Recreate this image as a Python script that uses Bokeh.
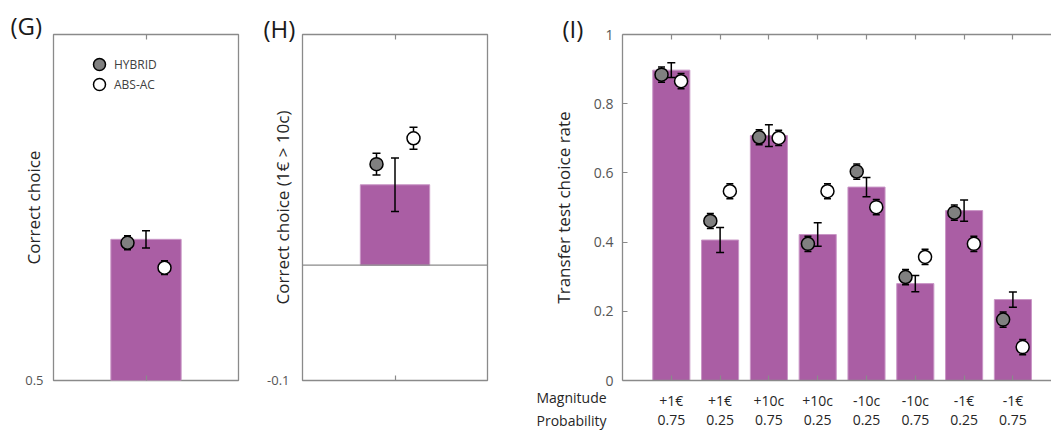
import numpy as np
from bokeh.plotting import figure
from bokeh.models import (ColumnDataSource, Whisker, TeeHead, Span, Title,
                          FixedTicker, LinearAxis, Legend, LegendItem, Range1d)
from bokeh.layouts import row
from bokeh.embed import file_html
from bokeh.resources import INLINE

# ---------------- data ----------------
# Panel G: correct choice
g_bar = [0.704]
g_bar_sem = [0.0125]
g_hybrid = [0.699]
g_abs = [0.663]
g_model_sem = [0.010]

# Panel H: correct choice (1€ > 10c)
h_bar = [0.0697]
h_bar_sem = [0.0232]
h_hybrid = [0.0876]
h_abs = [0.110]
h_model_sem = [0.0095]

# Panel I: transfer test choice rate
magnitude = ["+1€", "+1€", "+10c", "+10c", "-10c", "-10c", "-1€", "-1€"]
probability = ["0.75", "0.25", "0.75", "0.25", "0.25", "0.75", "0.25", "0.75"]
row_names = ["Magnitude", "Probability"]
i_bar = [0.897, 0.406, 0.708, 0.422, 0.559, 0.280, 0.491, 0.234]
i_bar_sem = [0.021, 0.036, 0.0315, 0.034, 0.028, 0.0235, 0.031, 0.022]
i_hybrid = [0.884, 0.461, 0.703, 0.395, 0.604, 0.299, 0.485, 0.176]
i_abs = [0.865, 0.547, 0.701, 0.547, 0.501, 0.357, 0.395, 0.0965]
i_model_sem = [0.022] * 8
i_yticks = [0, 0.2, 0.4, 0.6, 0.8, 1.0]
i_yticklabels = ["0", "0.2", "0.4", "0.6", "0.8", "1"]

# ---------------- style ----------------
FONT = "Open Sans"
BAR_FILL = "#AA5EA4"
BAR_LINE = "#C996C6"
FRAME = "#8a8a8a"
GRAY_DOT = "#808080"
TICKLBL = "#555555"
TXT = "#262626"
DOT_SIZE = 13
OFF = 0.2
BAR_W = 0.76
TOP, BOTTOM = 34, 51


def add_whisker(p, x, y, sem, head=8):
    y = np.asarray(y, float)
    sem = np.asarray(sem, float)
    src = ColumnDataSource(dict(x=list(x), lo=list(y - sem), hi=list(y + sem)))
    w = Whisker(source=src, base="x", upper="hi", lower="lo", dimension="height",
                line_color="black", line_width=1.5, level="glyph",
                upper_head=TeeHead(size=head, line_color="black", line_width=1.5),
                lower_head=TeeHead(size=head, line_color="black", line_width=1.5))
    p.add_layout(w)


def tick_axis(ticks, line):
    return LinearAxis(ticker=FixedTicker(ticks=ticks),
                      major_label_overrides={t: "" for t in ticks},
                      major_label_text_font_size="1px", major_label_standoff=0,
                      major_tick_in=5, major_tick_out=0,
                      major_tick_line_color=FRAME, major_tick_line_width=1.2,
                      minor_tick_line_color=None,
                      axis_line_color=FRAME if line else None, axis_line_width=1.3)


def style_common(p):
    p.xgrid.visible = False
    p.ygrid.visible = False
    p.background_fill_color = "white"
    p.border_fill_color = "white"


def style_yaxis(ya, yticks, yticklabels, size, standoff):
    ya.ticker = FixedTicker(ticks=yticks)
    ya.major_label_overrides = dict(zip(yticks, yticklabels))
    ya.major_label_text_font = FONT
    ya.major_label_text_font_size = size
    ya.major_label_text_color = TICKLBL
    ya.major_label_standoff = standoff
    ya.minor_tick_line_color = None


def panel_letter(p, text, offset, standoff):
    t = p.title
    t.text = text
    t.align = "left"
    t.offset = offset
    t.standoff = standoff
    t.vertical_align = "bottom"
    t.text_font = FONT
    t.text_font_size = "24px"
    t.text_font_style = "normal"
    t.text_color = "#1a1a1a"


def ylabel(ya, text, size, standoff):
    ya.axis_label = text
    ya.axis_label_text_font = FONT
    ya.axis_label_text_font_size = size
    ya.axis_label_text_font_style = "normal"
    ya.axis_label_text_color = TXT
    ya.axis_label_standoff = standoff


def boxed_panel(width, border_l, border_r, x_range, y_range, ytick, ylab, ylab_standoff,
                tick_standoff):
    p = figure(width=width, height=431, x_range=x_range, y_range=y_range,
               output_backend="svg", toolbar_location=None, x_axis_type=None, y_axis_type=None,
               min_border_left=border_l, min_border_right=border_r,
               min_border_top=TOP, min_border_bottom=BOTTOM)
    style_common(p)
    p.outline_line_color = FRAME
    p.outline_line_width = 1.3
    p.add_layout(tick_axis([1], False), "below")
    p.add_layout(tick_axis([1], False), "above")
    ya = LinearAxis(axis_line_color=None, major_tick_line_color=None, major_tick_out=0,
                    major_tick_in=0)
    style_yaxis(ya, [ytick[0]], [ytick[1]], "13px", tick_standoff)
    ylabel(ya, ylab, "17px", ylab_standoff)
    p.add_layout(ya, "left")
    return p


cx = np.array([1.0])

# ---------------- Panel G ----------------
pg = boxed_panel(255, 53, 17, Range1d(0, 2), Range1d(0.5, 1.0), (0.5, "0.5"),
                 "Correct choice", -23, 10)
pg.vbar(x=cx, top=g_bar, bottom=0.5, width=BAR_W, fill_color=BAR_FILL, line_color=BAR_LINE, line_width=1)
add_whisker(pg, cx, g_bar, g_bar_sem)
add_whisker(pg, cx - OFF, g_hybrid, g_model_sem, head=7)
add_whisker(pg, cx + OFF, g_abs, g_model_sem, head=7)
rg1 = pg.scatter(x=cx - OFF, y=g_hybrid, size=DOT_SIZE, fill_color=GRAY_DOT, line_color="black",
                 line_width=1.5, level="overlay")
rg2 = pg.scatter(x=cx + OFF, y=g_abs, size=DOT_SIZE, fill_color="white", line_color="black",
                 line_width=1.5, level="overlay")
for item, loc in ((LegendItem(label="HYBRID", renderers=[rg1]), (31, 301)),
                  (LegendItem(label="ABS-AC", renderers=[rg2]), (31, 281))):
    lg = Legend(items=[item], location=loc, glyph_width=30, glyph_height=30,
                label_standoff=0, padding=0, margin=0, spacing=0,
                border_line_color=None, background_fill_alpha=0,
                label_text_font=FONT, label_text_font_size="12px", label_text_color="#404040",
                label_height=30)
    pg.add_layout(lg, "center")
panel_letter(pg, "(G)", -43, -14)

# ---------------- Panel H ----------------
ph = boxed_panel(245, 47, 13, Range1d(0, 2), Range1d(-0.1, 0.2), (-0.1, "-0.1"),
                 "Correct choice (1€ > 10c)", -30, 13)
ph.add_layout(Span(location=0, dimension="width", line_color=FRAME, line_width=1.3))
ph.vbar(x=cx, top=h_bar, bottom=0, width=0.75, fill_color=BAR_FILL, line_color=BAR_LINE, line_width=1)
add_whisker(ph, cx, h_bar, h_bar_sem)
add_whisker(ph, cx - OFF, h_hybrid, h_model_sem, head=8)
add_whisker(ph, cx + OFF, h_abs, h_model_sem, head=8)
ph.scatter(x=cx - OFF, y=h_hybrid, size=DOT_SIZE, fill_color=GRAY_DOT, line_color="black",
           line_width=1.5, level="overlay")
ph.scatter(x=cx + OFF, y=h_abs, size=DOT_SIZE, fill_color="white", line_color="black",
           line_width=1.5, level="overlay")
panel_letter(ph, "(H)", -39, -20)

# ---------------- Panel I ----------------
n = len(i_bar)
ix = np.arange(1, n + 1, dtype=float)
PX = 48.8            # pixels per category unit
X_END = 429 / PX
pi_ = figure(width=551, height=431, x_range=Range1d(0, X_END), y_range=Range1d(0, 1.0),
             output_backend="svg", toolbar_location=None, x_axis_type=None, y_axis_type=None,
             min_border_left=122, min_border_right=0,
             min_border_top=TOP, min_border_bottom=BOTTOM)
style_common(pi_)
pi_.outline_line_color = None
pi_.add_layout(tick_axis(list(ix), True), "above")
# first row of category labels (magnitude), with the inward ticks and axis line
mag_axis = LinearAxis(ticker=FixedTicker(ticks=list(ix)),
                      major_label_overrides={float(x): m for x, m in zip(ix, magnitude)},
                      major_label_text_font=FONT, major_label_text_font_size="14px",
                      major_label_text_color=TXT, major_label_standoff=10,
                      major_tick_in=5, major_tick_out=0, major_tick_line_color=FRAME,
                      major_tick_line_width=1.2, minor_tick_line_color=None,
                      axis_line_color=FRAME, axis_line_width=1.3)
pi_.add_layout(mag_axis, "below")
# second row of category labels (probability)
prob_axis = LinearAxis(ticker=FixedTicker(ticks=list(ix)),
                       major_label_overrides={float(x): pr for x, pr in zip(ix, probability)},
                       major_label_text_font=FONT, major_label_text_font_size="14px",
                       major_label_text_color=TXT, major_label_standoff=2,
                       major_tick_line_color=None, major_tick_in=0, major_tick_out=0,
                       minor_tick_line_color=None, axis_line_color=None)
pi_.add_layout(prob_axis, "below")
# row names to the left of the category labels
row_title = Title(text="\n".join(row_names), align="left", offset=-86, vertical_align="top",
                  standoff=-80, text_font=FONT, text_font_size="14px", text_font_style="normal",
                  text_color=TXT, text_line_height=1.22)
pi_.add_layout(row_title, "below")
ya = LinearAxis(axis_line_color=FRAME, axis_line_width=1.3,
                major_tick_in=5, major_tick_out=0, major_tick_line_color=FRAME,
                major_tick_line_width=1.2)
style_yaxis(ya, i_yticks, i_yticklabels, "14px", 9)
ylabel(ya, "Transfer test choice rate", "17px", 16)
pi_.add_layout(ya, "left")
pi_.vbar(x=ix, top=i_bar, bottom=0, width=BAR_W, fill_color=BAR_FILL, line_color=BAR_LINE, line_width=1)
add_whisker(pi_, ix, i_bar, i_bar_sem)
add_whisker(pi_, ix - OFF, i_hybrid, i_model_sem, head=7)
add_whisker(pi_, ix + OFF, i_abs, i_model_sem, head=7)
pi_.scatter(x=ix - OFF, y=i_hybrid, size=DOT_SIZE, fill_color=GRAY_DOT, line_color="black",
            line_width=1.5, level="overlay")
pi_.scatter(x=ix + OFF, y=i_abs, size=DOT_SIZE, fill_color="white", line_color="black",
            line_width=1.5, level="overlay")
panel_letter(pi_, "(I)", -60, -21)

layout = row(pg, ph, pi_, spacing=0)
open("out.html", "w").write(file_html(layout, INLINE))
